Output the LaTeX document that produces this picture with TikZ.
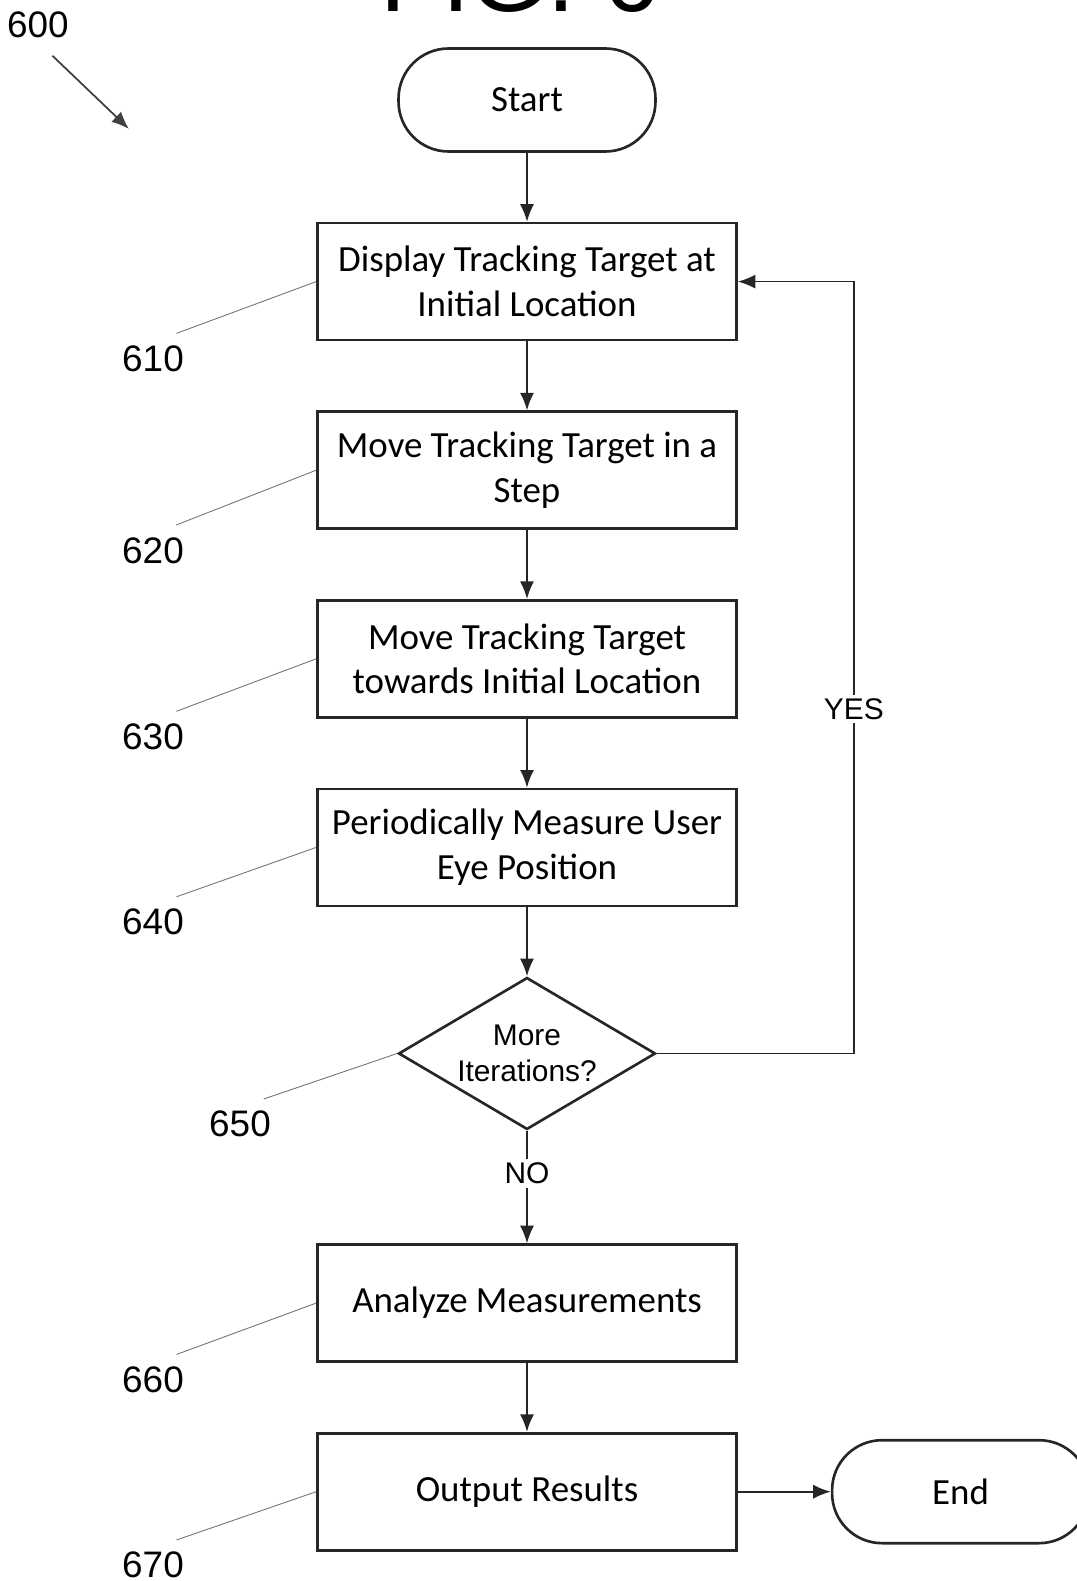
\documentclass[tikz,border=0pt]{standalone}
\usepackage{fontspec}
\setmainfont{Liberation Sans}
\newfontfamily\boxfont{Carlito}
\usetikzlibrary{arrows.meta,shapes,positioning}

\begin{document}
\begin{tikzpicture}
[x=0.02cm, y=-0.02cm, node distance=1.38cm,
stepbox/.style={shape=rectangle,draw=black!85,line width=1.5pt,minimum width=8.38cm,
  minimum height=2.34cm,align=center,font=\boxfont\fontsize{21}{25.5}\selectfont},
terminal/.style={stepbox,rounded corners=1cm,minimum width=5.14cm,minimum height=2.06cm},
decision/.style={shape=diamond,draw=black!85,line width=1.5pt,minimum width=5.14cm,
  minimum height=3.04cm,inner sep=0pt,aspect=1.7,align=center,font=\fontsize{17}{20.5}\selectfont},
myarrow/.style={-{Latex[length=10pt,width=8pt]},line width=1pt,draw=black!85},
answer/.style={fill=white,inner sep=2pt,font=\fontsize{17}{20}\selectfont},
leader/.style={draw=black!55,line width=0.5pt,shorten <=0.5cm},
refarrow/.style={-{Latex[length=10pt,width=8pt]},draw=black!75,line width=1pt,shorten <=0.4cm},
reflabel/.style={inner sep=2pt,font=\fontsize{21}{25}\selectfont}]

\useasboundingbox (0,0) rectangle (1076,1581);

% figure title, cut by the page top
\node (fig) [anchor=base,font=\fontsize{57}{60}\selectfont] at (520,12) {FIG. 6};

% flow
\node (start) [terminal] at (527,100) {Start};
\node (b610) [stepbox,below=of start] {Display Tracking Target at\\Initial Location};
\node (b620) [stepbox,below=of b610] {Move Tracking Target in a\\Step};
\node (b630) [stepbox,below=of b620] {Move Tracking Target\\towards Initial Location};
\node (b640) [stepbox,below=of b630] {Periodically Measure User\\Eye Position};
\node (dec) [decision,below=of b640] {More\\Iterations?};
\node (b660) [stepbox,below=2.25cm of dec] {Analyze Measurements};
\node (b670) [stepbox,below=of b660] {Output Results};
\node (stop) [terminal,right=1.86cm of b670] {End};

\draw[myarrow] (start) -- (b610);
\draw[myarrow] (b610) -- (b620);
\draw[myarrow] (b620) -- (b630);
\draw[myarrow] (b630) -- (b640);
\draw[myarrow] (b640) -- (dec);
\draw[myarrow] (dec) -- node[answer,pos=0.38] (no) {NO} (b660);
\draw[myarrow] (dec.east) -- ++(197,0) |- node[answer,pos=0.223] (yes) {YES} (b610.east);
\draw[myarrow] (b660) -- (b670);
\draw[myarrow] (b670) -- (stop);

% reference numerals
\node (l600) [reflabel] at (38,25) {600};
\coordinate (a600) at (129,129);
\draw[refarrow] (l600.south) -- (a600);

\node (l610) [reflabel] at (153,359) {610};
\node (l620) [reflabel] at (153,551) {620};
\node (l630) [reflabel] at (153,737) {630};
\node (l640) [reflabel] at (153,922) {640};
\node (l650) [reflabel] at (240,1124) {650};
\node (l660) [reflabel] at (153,1380) {660};
\node (l670) [reflabel] at (153,1565) {670};
\draw[leader] (l610.north) -- (b610.west);
\draw[leader] (l620.north) -- (b620.west);
\draw[leader] (l630.north) -- (b630.west);
\draw[leader] (l640.north) -- (b640.west);
\draw[leader] (l650.north) -- (dec.west);
\draw[leader] (l660.north) -- (b660.west);
\draw[leader] (l670.north) -- (b670.west);

\end{tikzpicture}
\end{document}
